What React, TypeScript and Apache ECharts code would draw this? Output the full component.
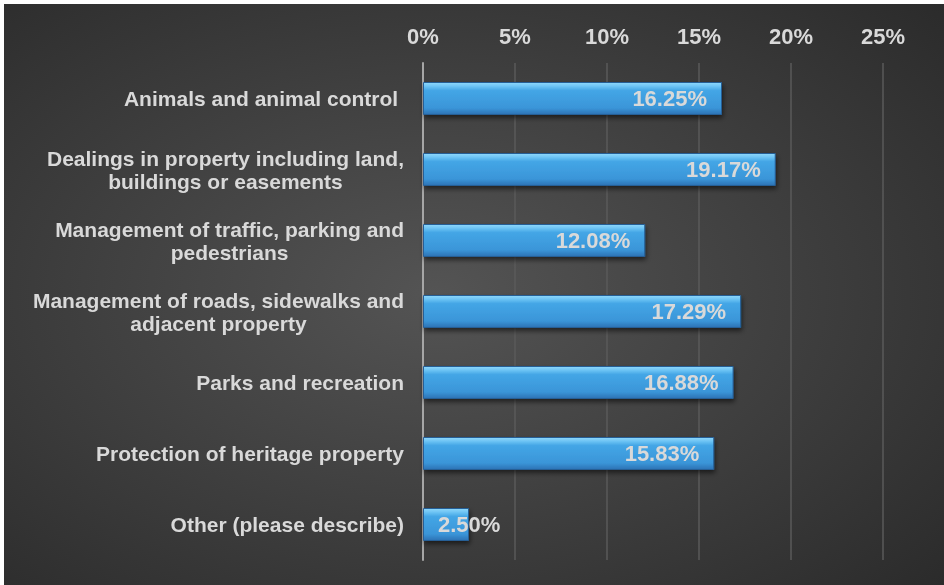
import React, { useEffect, useRef } from "react";
import * as echarts from "echarts";

const categories: string[] = [
  "Animals and animal control ",
  "Dealings in property including land,\nbuildings or easements",
  "Management of traffic, parking and\npedestrians",
  "Management of roads, sidewalks and\nadjacent property",
  "Parks and recreation",
  "Protection of heritage property",
  "Other (please describe)",
];
const values: number[] = [16.25, 19.17, 12.08, 17.29, 16.88, 15.83, 2.5];
const axisMax = 25;
const axisStep = 5;

const FONT = "Arial, 'Liberation Sans', sans-serif";
const TEXT = "#d9d9d9";

export default function App() {
  const ref = useRef<HTMLDivElement>(null);
  useEffect(() => {
    if (!ref.current) return;
    const chart = echarts.init(ref.current, null, { renderer: "svg" });
    const barColor = {
      type: "linear",
      x: 0, y: 0, x2: 0, y2: 1,
      colorStops: [
        { offset: 0, color: "#8fd8fb" },
        { offset: 0.12, color: "#6cc3f4" },
        { offset: 0.25, color: "#44a6e6" },
        { offset: 0.8, color: "#3a95d8" },
        { offset: 1, color: "#2c72b4" },
      ],
    };
    chart.setOption({
      animation: false,
      backgroundColor: {
        type: "radial",
        x: 0.46, y: 0.5, r: 0.95,
        colorStops: [
          { offset: 0, color: "#545454" },
          { offset: 1, color: "#1f1f1f" },
        ],
      },
      grid: { left: 419, top: 59, right: 61, bottom: 25, containLabel: false },
      xAxis: {
        type: "value",
        position: "top",
        min: 0,
        max: axisMax,
        interval: axisStep,
        axisLine: { show: false },
        axisTick: { show: false },
        axisLabel: {
          formatter: "{value}%",
          color: TEXT,
          fontSize: 22,
          fontWeight: "bold",
          fontFamily: FONT,
          margin: 16,
        },
        splitLine: { lineStyle: { color: "#5a5a5a", width: 1.5 } },
      },
      yAxis: {
        type: "category",
        inverse: true,
        data: categories,
        axisLine: { show: true, lineStyle: { color: "#a6a6a6", width: 2 } },
        axisTick: { show: false },
        axisLabel: {
          margin: 19,
          align: "right",
          color: TEXT,
          fontSize: 21,
          fontWeight: "bold",
          fontFamily: FONT,
          lineHeight: 23,
          formatter: (v: string) =>
            v.split("\n").map((l) => `{c|${l}}`).join("\n"),
          rich: {
            c: {
              align: "center",
              color: TEXT,
              fontSize: 21,
              fontWeight: "bold",
              fontFamily: FONT,
              lineHeight: 23,
            },
          },
        },
      },
      series: [
        {
          type: "bar",
          barWidth: 33,
          data: values.map((v, i) => ({
            value: v,
            label:
              i === values.length - 1
                ? { position: "insideLeft", distance: 15 }
                : undefined,
          })),
          itemStyle: {
            color: barColor,
            borderColor: "#255e96",
            borderWidth: 1,
            shadowColor: "rgba(0,0,0,0.55)",
            shadowBlur: 5,
            shadowOffsetY: 3,
            shadowOffsetX: 1,
          },
          label: {
            show: true,
            position: "insideRight",
            distance: 15,
            formatter: (p: any) => p.value.toFixed(2) + "%",
            color: TEXT,
            fontSize: 22,
            fontWeight: "bold",
            fontFamily: FONT,
          },
        },
      ],
    });
    return () => chart.dispose();
  }, []);
  return (
    <div
      ref={ref}
      style={{ position: "fixed", left: 4, top: 4, width: 940, height: 581 }}
    />
  );
}
